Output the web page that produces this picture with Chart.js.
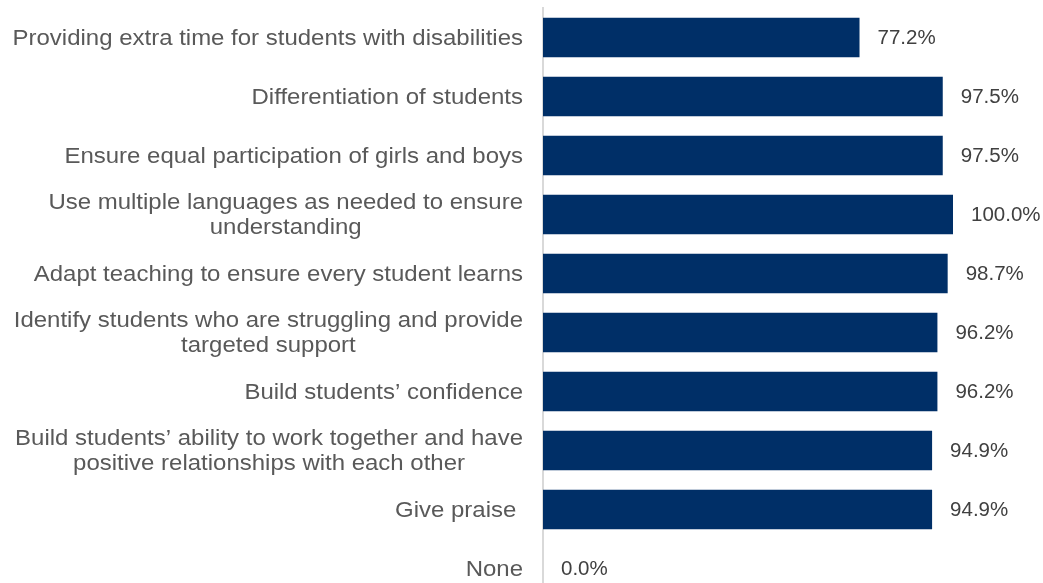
<!DOCTYPE html>
<html>
<head>
<meta charset="utf-8">
<script src="https://cdn.jsdelivr.net/npm/chart.js@4/dist/chart.umd.min.js"></script>
<style>
  html, body { margin: 0; padding: 0; background: #fff; overflow: hidden; }
  #wrap { position: relative; width: 1043px; height: 598px; }
</style>
</head>
<body>
<div id="wrap"><canvas id="practiceChart"></canvas></div>
<script>
const categories = [
    ['Providing extra time for students with disabilities'],
    ['Differentiation of students'],
    ['Ensure equal participation of girls and boys'],
    ['Use multiple languages as needed to ensure', 'understanding'],
    ['Adapt teaching to ensure every student learns'],
    ['Identify students who are struggling and provide', 'targeted support'],
    ['Build students\u2019 confidence'],
    ['Build students\u2019 ability to work together and have', 'positive relationships with each other'],
    ['Give praise '],
    ['None']
];
const shares = [77.2, 97.5, 97.5, 100.0, 98.7, 96.2, 96.2, 94.9, 94.9, 0.0];

const FONT = "'Liberation Sans', Arial, sans-serif";

// category labels: block right-aligned to the axis, lines centred within the block
const categoryLabels = {
    id: 'categoryLabels',
    afterDraw(chart) {
        const ctx = chart.ctx;
        const yScale = chart.scales.y;
        const right = chart.chartArea.left - 20;
        const lineH = 25.5;
        const stretch = 1.09;
        ctx.save();
        ctx.font = '22px ' + FONT;
        ctx.fillStyle = '#595959';
        ctx.textAlign = 'center';
        ctx.textBaseline = 'middle';
        ctx.translate(right, 0);
        ctx.scale(stretch, 1);
        categories.forEach((lines, i) => {
            const cy = yScale.getPixelForTick(i);
            const maxW = Math.max(...lines.map(l => ctx.measureText(l).width));
            const top = cy - (lines.length - 1) * lineH / 2;
            lines.forEach((l, j) => ctx.fillText(l, -maxW / 2, top + j * lineH + 1));
        });
        ctx.restore();
    }
};

// percentage labels at the end of each bar
const valueLabels = {
    id: 'valueLabels',
    afterDatasetsDraw(chart) {
        const ctx = chart.ctx;
        const meta = chart.getDatasetMeta(0);
        ctx.save();
        ctx.font = '20.5px ' + FONT;
        ctx.fillStyle = '#404040';
        ctx.textAlign = 'left';
        ctx.textBaseline = 'middle';
        meta.data.forEach((bar, i) => {
            ctx.fillText(shares[i].toFixed(1) + '%', bar.x + 18, bar.y + 1);
        });
        ctx.restore();
    }
};

new Chart(document.getElementById('practiceChart'), {
    type: 'bar',
    data: {
        labels: categories,
        datasets: [{
            data: shares,
            backgroundColor: '#002f67',
            borderWidth: 0,
            barPercentage: 0.67,
            categoryPercentage: 1
        }]
    },
    options: {
        indexAxis: 'y',
        responsive: true,
        maintainAspectRatio: false,
        animation: false,
        layout: { padding: { left: 535, right: 90, top: 8, bottom: 0 } },
        scales: {
            x: { display: false, min: 0, max: 100 },
            y: {
                grid: { display: false },
                border: { display: true, color: '#d9d9d9', width: 2 },
                ticks: { display: false }
            }
        },
        plugins: {
            legend: { display: false },
            tooltip: { enabled: false }
        }
    },
    plugins: [categoryLabels, valueLabels]
});
</script>
</body>
</html>
